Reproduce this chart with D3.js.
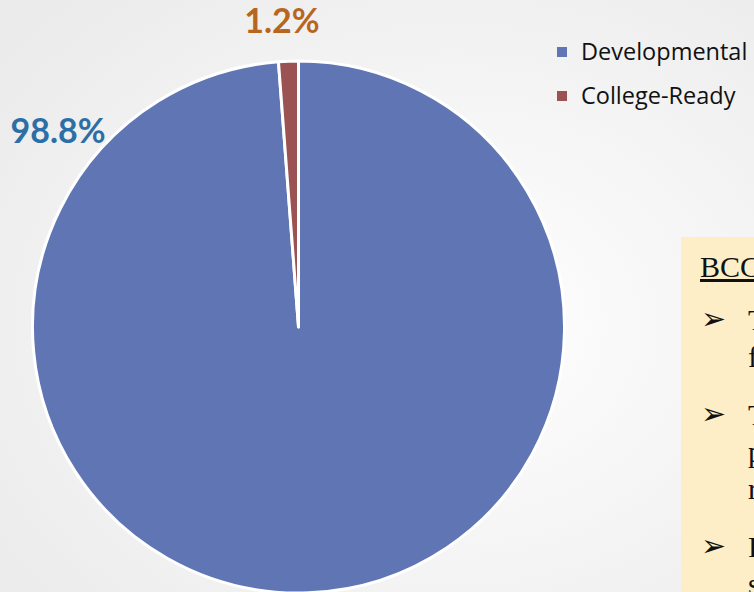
<!DOCTYPE html>
<html>
<head>
<meta charset="utf-8">
<script src="https://cdn.jsdelivr.net/npm/d3@7"></script>
<style>
  html, body { margin: 0; padding: 0; overflow: hidden; }
  svg { display: block; }
</style>
</head>
<body>
<svg id="chart"></svg>
<script>
const categories = ["Developmental", "College-Ready"];
const values = [98.8, 1.2];
const labels = ["98.8%", "1.2%"];
const colors = ["#6075b4", "#9b5252"];
const labelColors = ["#2c6ea6", "#b8661e"];

const noteTitle = "BCC";
const noteBullets = [
  ["The", "f"],
  ["T", "p", "r"],
  ["F", "s"]
];

const width = 754, height = 592;
const svg = d3.select("#chart").attr("width", width).attr("height", height);

const defs = svg.append("defs");
const bg = defs.append("radialGradient").attr("id", "bg")
  .attr("cx", "60%").attr("cy", "55%").attr("r", "75%");
bg.append("stop").attr("offset", "0%").attr("stop-color", "#ffffff");
bg.append("stop").attr("offset", "100%").attr("stop-color", "#ebebeb");
svg.append("rect").attr("width", width).attr("height", height).attr("fill", "url(#bg)");

// pie
const cx = 298.5, cy = 327, radius = 266;
const pie = d3.pie().sort(null).value(d => d)(values);
const arc = d3.arc().innerRadius(0).outerRadius(radius);
const g = svg.append("g").attr("transform", `translate(${cx},${cy})`);
g.selectAll("path").data(pie).enter().append("path")
  .attr("d", arc)
  .attr("fill", (d, i) => colors[i])
  .attr("stroke", "#ffffff")
  .attr("stroke-width", 3)
  .attr("stroke-linejoin", "round");

// data labels
const labelPos = [[58, 143], [282, 33]];
svg.selectAll(".lbl").data(labels).enter().append("text")
  .attr("class", "lbl")
  .attr("x", (d, i) => labelPos[i][0])
  .attr("y", (d, i) => labelPos[i][1])
  .attr("text-anchor", "middle")
  .attr("font-family", "Lato, 'Open Sans', sans-serif")
  .attr("font-weight", "bold")
  .attr("font-size", 34)
  .attr("fill", (d, i) => labelColors[i])
  .text(d => d);

// legend
const legend = svg.append("g").attr("transform", "translate(557,47)");
const item = legend.selectAll("g").data(categories).enter().append("g")
  .attr("transform", (d, i) => `translate(0,${i * 44})`);
item.append("rect").attr("width", 10).attr("height", 10).attr("fill", (d, i) => colors[i]);
item.append("text")
  .attr("x", 24).attr("y", 13)
  .attr("font-family", "'Open Sans', sans-serif")
  .attr("font-size", 23.5)
  .attr("fill", "#111")
  .text(d => d);

// note box (extends past the right edge, as in the source slide)
const note = svg.append("g").attr("transform", "translate(681,237)");
note.append("rect").attr("width", 200).attr("height", 400).attr("fill", "#fdeec8");
note.append("text")
  .attr("x", 19).attr("y", 40)
  .attr("font-family", "'Liberation Serif', serif")
  .attr("font-size", 30)
  .attr("text-decoration", "underline")
  .attr("fill", "#111")
  .text(noteTitle);

let y = 93;
noteBullets.forEach(lines => {
  note.append("text")
    .attr("x", 20).attr("y", y - 1)
    .attr("font-family", "'DejaVu Sans', sans-serif")
    .attr("font-size", 30)
    .attr("fill", "#111")
    .text("\u27A2");
  lines.forEach((ln, j) => {
    note.append("text")
      .attr("x", 67).attr("y", y + j * 37)
      .attr("font-family", "'Liberation Serif', serif")
      .attr("font-size", 30)
      .attr("fill", "#111")
      .text(ln);
  });
  y += (lines.length - 1) * 37 + 58;
});
</script>
</body>
</html>
